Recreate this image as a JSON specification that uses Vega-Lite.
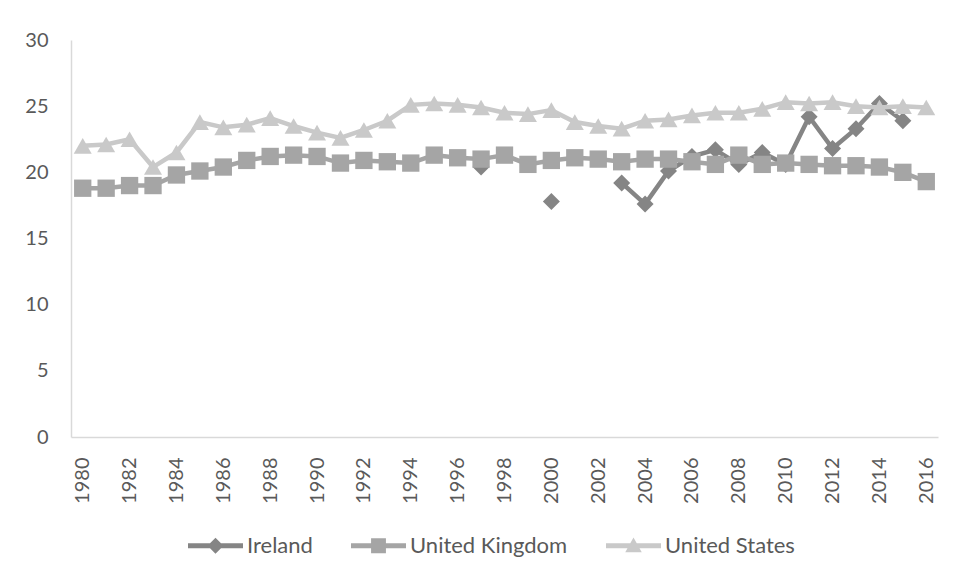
{
  "$schema": "https://vega.github.io/schema/vega-lite/v6.json",
  "width": 867,
  "height": 397,
  "autosize": {"type": "none"},
  "padding": {"left": 71, "top": 40, "right": 19, "bottom": 141},
  "background": "white",
  "data": {
    "values": [
      {"year": 1980, "country": "United Kingdom", "value": 18.8},
      {"year": 1981, "country": "United Kingdom", "value": 18.8},
      {"year": 1982, "country": "United Kingdom", "value": 19.0},
      {"year": 1983, "country": "United Kingdom", "value": 19.0},
      {"year": 1984, "country": "United Kingdom", "value": 19.8},
      {"year": 1985, "country": "United Kingdom", "value": 20.1},
      {"year": 1986, "country": "United Kingdom", "value": 20.4},
      {"year": 1987, "country": "United Kingdom", "value": 20.9},
      {"year": 1988, "country": "United Kingdom", "value": 21.2},
      {"year": 1989, "country": "United Kingdom", "value": 21.3},
      {"year": 1990, "country": "United Kingdom", "value": 21.2},
      {"year": 1991, "country": "United Kingdom", "value": 20.7},
      {"year": 1992, "country": "United Kingdom", "value": 20.9},
      {"year": 1993, "country": "United Kingdom", "value": 20.8},
      {"year": 1994, "country": "United Kingdom", "value": 20.7},
      {"year": 1995, "country": "United Kingdom", "value": 21.3},
      {"year": 1996, "country": "United Kingdom", "value": 21.1},
      {"year": 1997, "country": "United Kingdom", "value": 21.0},
      {"year": 1998, "country": "United Kingdom", "value": 21.3},
      {"year": 1999, "country": "United Kingdom", "value": 20.6},
      {"year": 2000, "country": "United Kingdom", "value": 20.9},
      {"year": 2001, "country": "United Kingdom", "value": 21.1},
      {"year": 2002, "country": "United Kingdom", "value": 21.0},
      {"year": 2003, "country": "United Kingdom", "value": 20.8},
      {"year": 2004, "country": "United Kingdom", "value": 21.0},
      {"year": 2005, "country": "United Kingdom", "value": 21.0},
      {"year": 2006, "country": "United Kingdom", "value": 20.8},
      {"year": 2007, "country": "United Kingdom", "value": 20.6},
      {"year": 2008, "country": "United Kingdom", "value": 21.3},
      {"year": 2009, "country": "United Kingdom", "value": 20.6},
      {"year": 2010, "country": "United Kingdom", "value": 20.7},
      {"year": 2011, "country": "United Kingdom", "value": 20.6},
      {"year": 2012, "country": "United Kingdom", "value": 20.5},
      {"year": 2013, "country": "United Kingdom", "value": 20.5},
      {"year": 2014, "country": "United Kingdom", "value": 20.4},
      {"year": 2015, "country": "United Kingdom", "value": 20.0},
      {"year": 2016, "country": "United Kingdom", "value": 19.3},
      {"year": 1980, "country": "United States", "value": 22.0},
      {"year": 1981, "country": "United States", "value": 22.1},
      {"year": 1982, "country": "United States", "value": 22.5},
      {"year": 1983, "country": "United States", "value": 20.4},
      {"year": 1984, "country": "United States", "value": 21.5},
      {"year": 1985, "country": "United States", "value": 23.8},
      {"year": 1986, "country": "United States", "value": 23.4},
      {"year": 1987, "country": "United States", "value": 23.6},
      {"year": 1988, "country": "United States", "value": 24.1},
      {"year": 1989, "country": "United States", "value": 23.5},
      {"year": 1990, "country": "United States", "value": 23.0},
      {"year": 1991, "country": "United States", "value": 22.6},
      {"year": 1992, "country": "United States", "value": 23.2},
      {"year": 1993, "country": "United States", "value": 23.9},
      {"year": 1994, "country": "United States", "value": 25.1},
      {"year": 1995, "country": "United States", "value": 25.2},
      {"year": 1996, "country": "United States", "value": 25.1},
      {"year": 1997, "country": "United States", "value": 24.9},
      {"year": 1998, "country": "United States", "value": 24.5},
      {"year": 1999, "country": "United States", "value": 24.4},
      {"year": 2000, "country": "United States", "value": 24.7},
      {"year": 2001, "country": "United States", "value": 23.8},
      {"year": 2002, "country": "United States", "value": 23.5},
      {"year": 2003, "country": "United States", "value": 23.3},
      {"year": 2004, "country": "United States", "value": 23.9},
      {"year": 2005, "country": "United States", "value": 24.0},
      {"year": 2006, "country": "United States", "value": 24.3},
      {"year": 2007, "country": "United States", "value": 24.5},
      {"year": 2008, "country": "United States", "value": 24.5},
      {"year": 2009, "country": "United States", "value": 24.8},
      {"year": 2010, "country": "United States", "value": 25.3},
      {"year": 2011, "country": "United States", "value": 25.2},
      {"year": 2012, "country": "United States", "value": 25.3},
      {"year": 2013, "country": "United States", "value": 25.0},
      {"year": 2014, "country": "United States", "value": 24.9},
      {"year": 2015, "country": "United States", "value": 25.0},
      {"year": 2016, "country": "United States", "value": 24.9},
      {"year": 1997, "country": "Ireland", "value": 20.4},
      {"year": 1998, "country": "Ireland", "value": null},
      {"year": 1999, "country": "Ireland", "value": null},
      {"year": 2000, "country": "Ireland", "value": 17.8},
      {"year": 2001, "country": "Ireland", "value": null},
      {"year": 2002, "country": "Ireland", "value": null},
      {"year": 2003, "country": "Ireland", "value": 19.2},
      {"year": 2004, "country": "Ireland", "value": 17.6},
      {"year": 2005, "country": "Ireland", "value": 20.1},
      {"year": 2006, "country": "Ireland", "value": 21.2},
      {"year": 2007, "country": "Ireland", "value": 21.7},
      {"year": 2008, "country": "Ireland", "value": 20.6},
      {"year": 2009, "country": "Ireland", "value": 21.5},
      {"year": 2010, "country": "Ireland", "value": 20.6},
      {"year": 2011, "country": "Ireland", "value": 24.2},
      {"year": 2012, "country": "Ireland", "value": 21.8},
      {"year": 2013, "country": "Ireland", "value": 23.3},
      {"year": 2014, "country": "Ireland", "value": 25.2},
      {"year": 2015, "country": "Ireland", "value": 23.9}
    ]
  },
  "encoding": {
    "x": {
      "field": "year",
      "type": "ordinal",
      "sort": "ascending",
      "scale": {"type": "point", "padding": 0.5, "domain": [1980,1981,1982,1983,1984,1985,1986,1987,1988,1989,1990,1991,1992,1993,1994,1995,1996,1997,1998,1999,2000,2001,2002,2003,2004,2005,2006,2007,2008,2009,2010,2011,2012,2013,2014,2015,2016]},
      "axis": {
        "title": null,
        "values": [1980,1982,1984,1986,1988,1990,1992,1994,1996,1998,2000,2002,2004,2006,2008,2010,2012,2014,2016],
        "labelAngle": 270,
        "labelPadding": 20,
        "labelFontSize": 20
      }
    },
    "y": {
      "field": "value",
      "type": "quantitative",
      "scale": {"domain": [0, 30], "nice": false, "zero": true},
      "axis": {
        "title": null,
        "values": [0, 5, 10, 15, 20, 25, 30],
        "labelPadding": 23,
        "labelFontSize": 20
      }
    },
    "color": {
      "field": "country",
      "type": "nominal",
      "scale": {
        "domain": ["Ireland", "United Kingdom", "United States"],
        "range": ["#858585", "#a5a5a5", "#c9c9c9"]
      },
      "legend": {
        "title": null,
        "orient": "none",
        "legendX": 117,
        "legendY": 478,
        "direction": "horizontal",
        "symbolSize": 3025,
        "labelFont": "Lato",
        "labelFontSize": 22,
        "labelColor": "#595959",
        "labelOffset": 4,
        "columnPadding": 38,
        "padding": 0,
        "encode": {
          "symbols": {
            "update": {
              "shape": {"signal": "datum.value === 'Ireland' ? 'M-1,-0.09H1V0.09H-1Z M0,-0.29L0.29,0L0,0.29L-0.29,0Z' : datum.value === 'United Kingdom' ? 'M-1,-0.09H1V0.09H-1Z M-0.27,-0.27H0.27V0.27H-0.27Z' : 'M-1,-0.09H1V0.09H-1Z M0,-0.3L0.3,0.24H-0.3Z'"},
              "fill": {"signal": "scale('color', datum.value)"},
              "stroke": {"value": "transparent"},
              "strokeWidth": {"value": 0},
              "size": {"value": 3025},
              "opacity": {"value": 1}
            }
          }
        }
      }
    }
  },
  "layer": [
    {
      "transform": [{"filter": "datum.country === 'Ireland'"}],
      "mark": {"type": "line", "strokeWidth": 4.5}
    },
    {
      "transform": [{"filter": "datum.country === 'Ireland'"}],
      "mark": {"type": "point", "shape": "diamond", "filled": true, "size": 289, "opacity": 1}
    },
    {
      "transform": [{"filter": "datum.country === 'United Kingdom'"}],
      "mark": {"type": "line", "strokeWidth": 4.5}
    },
    {
      "transform": [{"filter": "datum.country === 'United Kingdom'"}],
      "mark": {"type": "point", "shape": "square", "filled": true, "size": 300, "opacity": 1}
    },
    {
      "transform": [{"filter": "datum.country === 'United States'"}],
      "mark": {"type": "line", "strokeWidth": 4.5}
    },
    {
      "transform": [{"filter": "datum.country === 'United States'"}],
      "mark": {"type": "point", "shape": "M0,-0.87L1,0.87L-1,0.87Z", "filled": true, "size": 324, "opacity": 1}
    }
  ],
  "config": {
    "view": {"stroke": null},
    "axis": {
      "domainColor": "#d9d9d9",
      "domainWidth": 1.5,
      "ticks": false,
      "grid": false,
      "labelFont": "Lato",
      "labelColor": "#595959"
    }
  }
}
